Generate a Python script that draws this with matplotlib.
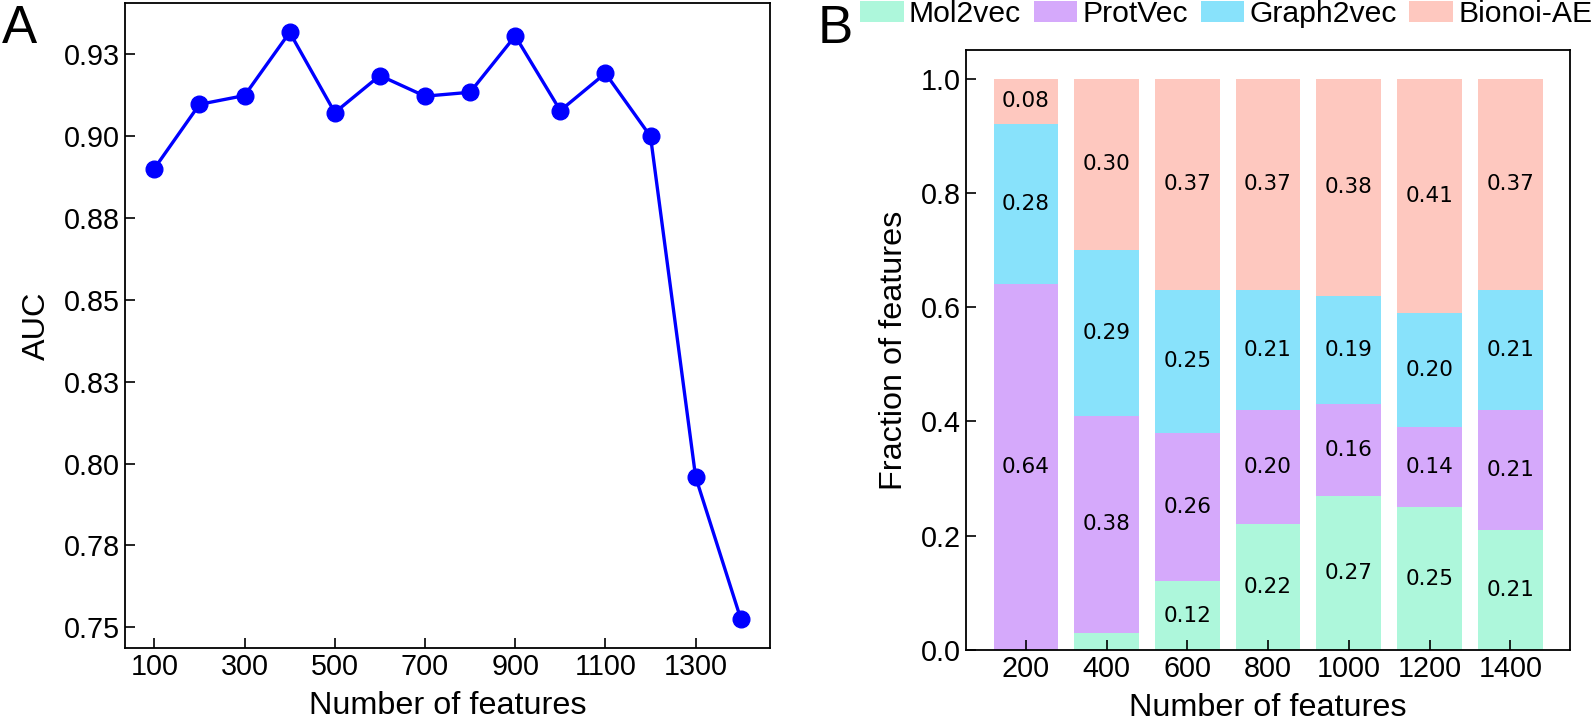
import matplotlib
matplotlib.use("Agg")
import matplotlib.pyplot as plt
import numpy as np

plt.rcParams['font.family'] = ['Liberation Sans', 'DejaVu Sans']

# panel A data
n_feat = [100, 200, 300, 400, 500, 600, 700, 800, 900, 1000, 1100, 1200, 1300, 1400]
auc = [0.8901, 0.9097, 0.9124, 0.9317, 0.9072, 0.9185, 0.9122, 0.9134, 0.9306,
       0.9078, 0.9192, 0.8999, 0.7959, 0.7526]
auc_ticks = [0.75, 0.775, 0.80, 0.825, 0.85, 0.875, 0.90, 0.925]
auc_ticklabels = ['0.75', '0.78', '0.80', '0.83', '0.85', '0.88', '0.90', '0.93']
a_xticks = [100, 300, 500, 700, 900, 1100, 1300]

# panel B data
bar_x = [200, 400, 600, 800, 1000, 1200, 1400]
mol2vec = [0.00, 0.03, 0.12, 0.22, 0.27, 0.25, 0.21]
protvec = [0.64, 0.38, 0.26, 0.20, 0.16, 0.14, 0.21]
graph2vec = [0.28, 0.29, 0.25, 0.21, 0.19, 0.20, 0.21]
bionoi = [0.08, 0.30, 0.37, 0.37, 0.38, 0.41, 0.37]
series_names = ['Mol2vec', 'ProtVec', 'Graph2vec', 'Bionoi-AE']
colors = ['#adf7db', '#d5a9fb', '#88e2fb', '#fec8bf']

fig = plt.figure(figsize=(15.91, 7.2), dpi=100)
ax1 = fig.add_axes([0.0786, 0.100, 0.4054, 0.8958])
ax2 = fig.add_axes([0.6072, 0.0972, 0.3796, 0.8334])

# ---- A ----
ax1.plot(n_feat, auc, color='#0000ff', lw=2.4, marker='o', ms=12)
ax1.set_xticks(a_xticks)
ax1.set_yticks(auc_ticks)
ax1.set_yticklabels(auc_ticklabels)
ax1.set_xlabel('Number of features', fontsize=23.3, labelpad=7)
ax1.set_ylabel('AUC', fontsize=23.3, labelpad=9)

# ---- B ----
bottom = np.zeros(len(bar_x))
for vals, name, c in zip([mol2vec, protvec, graph2vec, bionoi], series_names, colors):
    vals = np.array(vals)
    bars = ax2.bar(bar_x, vals, width=160, bottom=bottom, color=c, label=name)
    labels = ['%.2f' % v if v >= 0.05 else '' for v in vals]
    ax2.bar_label(bars, labels=labels, label_type='center', fontsize=15.5,
                  family='DejaVu Sans')
    bottom += vals
ax2.set_xticks(bar_x)
ax2.set_ylim(0, 1.05)
ax2.set_yticks([0.0, 0.2, 0.4, 0.6, 0.8, 1.0])
ax2.set_yticklabels(['0.0', '0.2', '0.4', '0.6', '0.8', '1.0'])
ax2.set_xlabel('Number of features', fontsize=23.3, labelpad=7)
ax2.set_ylabel('Fraction of features', fontsize=23.3, labelpad=9)

for ax in (ax1, ax2):
    ax.tick_params(direction='in', length=7, width=1.2, labelsize=20.7)
    for s in ax.spines.values():
        s.set_linewidth(1.3)

fig.legend(loc='center left', bbox_to_anchor=(0.5405, 0.98), ncol=4, frameon=False,
           fontsize=21.7, borderpad=0, borderaxespad=0, handlelength=1.45,
           handleheight=0.7, handletextpad=0.17, columnspacing=0.42)

fig.text(0.001, 0.995, 'A', fontsize=38, va='top', ha='left')
fig.text(0.514, 0.995, 'B', fontsize=38, va='top', ha='left')

fig.savefig('out.png', dpi=100)
